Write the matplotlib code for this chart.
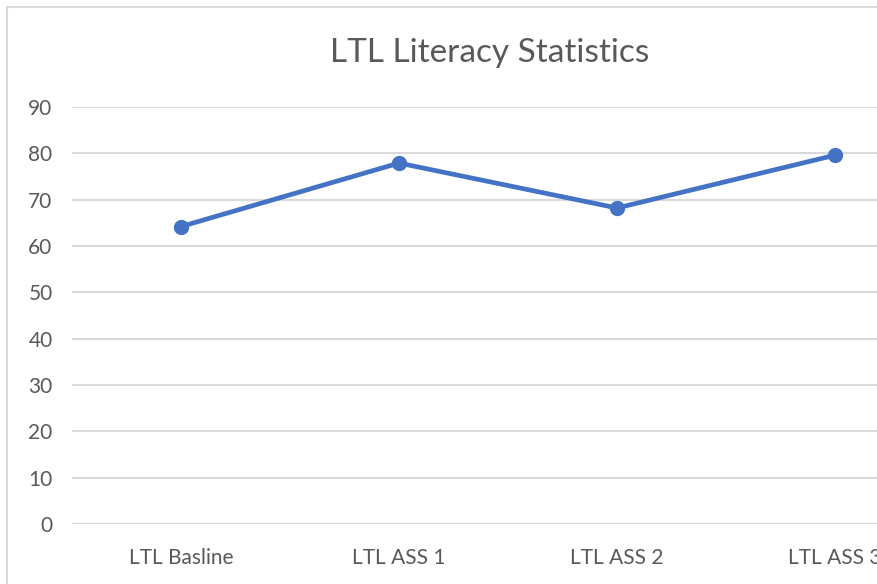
import matplotlib.pyplot as plt
from matplotlib.patches import Rectangle

categories = ['LTL Basline', 'LTL ASS 1', 'LTL ASS 2', 'LTL ASS 3']
scores = [64.2, 77.9, 68.2, 79.6]
y_ticks = [0, 10, 20, 30, 40, 50, 60, 70, 80, 90]

plt.rcParams['font.family'] = ['Lato', 'DejaVu Sans']

W, H = 877, 584
fig = plt.figure(figsize=(W / 100, H / 100), dpi=100)

# chart border (cropped on right/bottom in the original screenshot)
fig.patches.append(Rectangle((7 / W, -0.1), 2, 1 - 7 / H + 0.1, transform=fig.transFigure,
                             fill=False, ec='#d9d9d9', lw=1.5))

# plot area extends past the right edge, like the original crop
left, right = 72, 944
bottom, top = 524, 107
ax = fig.add_axes([left / W, (H - bottom) / H, (right - left) / W, (bottom - top) / H])
ax.set_xlim(-0.5, len(categories) - 0.5)
ax.set_ylim(0, 90)
ax.set_yticks(y_ticks)
ax.set_xticks(range(len(categories)))
ax.set_xticklabels(categories)
ax.grid(axis='y', color='#d9d9d9', lw=1.5)
ax.set_axisbelow(True)
for s in ax.spines.values():
    s.set_visible(False)
ax.tick_params(length=0, colors='#595959', labelsize=15)
ax.tick_params(axis='y', pad=14)
ax.tick_params(axis='x', pad=17)

ax.plot(range(len(categories)), scores, color='#4472C4', lw=3.4, marker='o', ms=10,
        solid_capstyle='round', clip_on=False, zorder=3)

fig.text(490 / W, 1 - 53 / H, 'LTL Literacy Statistics', ha='center', va='center',
         fontsize=24, color='#595959')

fig.savefig('out.png', dpi=100)
